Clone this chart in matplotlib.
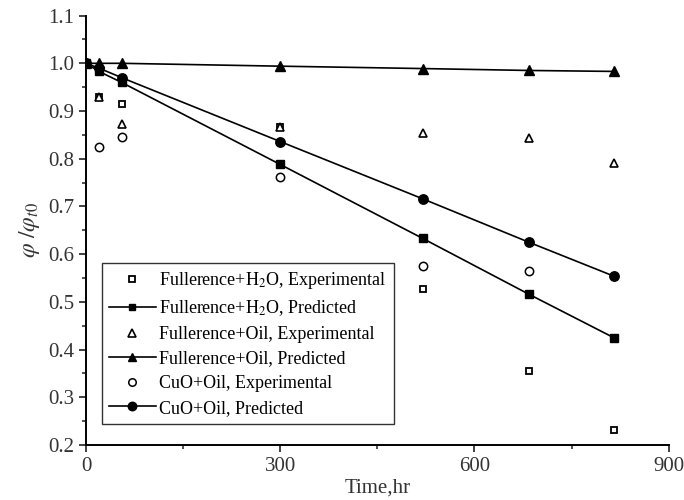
import matplotlib
matplotlib.use('Agg')
import matplotlib.pyplot as plt
from matplotlib.ticker import MultipleLocator

plt.rcParams['font.family'] = ['Liberation Serif', 'DejaVu Serif']
plt.rcParams['mathtext.fontset'] = 'stix'

# time points (hr)
t_exp = [0, 20, 55, 300, 520, 684, 815]
t_cuo = [0, 20, 55, 300, 520, 684]
t_pred = [0, 20, 55, 300, 520, 684, 815]

# Fullerence + H2O
h2o_exp = [1.0, 0.930, 0.915, 0.866, 0.527, 0.356, 0.231]
h2o_pred = [1.0, 0.983, 0.960, 0.788, 0.633, 0.516, 0.425]

# Fullerence + oil
oil_exp = [1.0, 0.930, 0.872, 0.867, 0.853, 0.844, 0.792]
oil_pred = [1.0, 1.0, 1.0, 0.994, 0.989, 0.985, 0.983]

# CuO + oil
cuo_exp = [1.0, 0.825, 0.846, 0.761, 0.576, 0.565]
cuo_pred = [1.0, 0.990, 0.970, 0.836, 0.716, 0.625, 0.554]

fig = plt.figure(figsize=(6.84, 5.0), dpi=100)
ax = fig.add_axes([0.1257, 0.11, 0.852, 0.8588])

ax.plot(t_exp, h2o_exp, ls='none', marker='s', ms=5, mfc='white', mec='black', mew=1.3,
        label='Fullerence+H$_2$O, Experimental')
ax.plot(t_pred, h2o_pred, color='black', lw=1.2, marker='s', ms=5.5, mfc='black', mec='black',
        label='Fullerence+H$_2$O, Predicted')
ax.plot(t_exp, oil_exp, ls='none', marker='^', ms=6, mfc='white', mec='black', mew=1.2,
        label='Fullerence+Oil, Experimental')
ax.plot(t_pred, oil_pred, color='black', lw=1.2, marker='^', ms=6.5, mfc='black', mec='black',
        label='Fullerence+Oil, Predicted')
ax.plot(t_cuo, cuo_exp, ls='none', marker='o', ms=6, mfc='white', mec='black', mew=1.1,
        label='CuO+Oil, Experimental')
ax.plot(t_pred, cuo_pred, color='black', lw=1.2, marker='o', ms=6.8, mfc='black', mec='black',
        label='CuO+Oil, Predicted')

ax.set_xlim(0, 900)
ax.set_ylim(0.2, 1.1)
ax.xaxis.set_major_locator(MultipleLocator(300))
ax.xaxis.set_minor_locator(MultipleLocator(150))
ax.yaxis.set_major_locator(MultipleLocator(0.1))
ax.yaxis.set_minor_locator(MultipleLocator(0.05))
ax.yaxis.set_major_formatter(plt.FuncFormatter(lambda v, p: f'{v:.1f}'))

for s in ['top', 'right']:
    ax.spines[s].set_visible(False)
for s in ['left', 'bottom']:
    ax.spines[s].set_linewidth(1.4)

ax.tick_params(which='major', direction='out', length=5, width=1.3, labelsize=15, colors='#333333')
ax.tick_params(which='minor', direction='out', length=3, width=1.2, colors='#333333')

ax.set_xlabel('Time,hr', fontsize=15, color='#333333', labelpad=2)
ax.set_ylabel(r'$\varphi\ /\varphi_{t0}$', fontsize=17, color='#333333', labelpad=4)

leg = ax.legend(loc='lower left', bbox_to_anchor=(0.027, 0.049), fontsize=13,
                frameon=True, fancybox=False, edgecolor='#333333', framealpha=1,
                handlelength=2.6, handletextpad=0.2, borderpad=0.4, labelspacing=0.42,
                borderaxespad=0, markerscale=0.9)
leg.get_frame().set_linewidth(1.0)

fig.savefig('out.png', dpi=100)
